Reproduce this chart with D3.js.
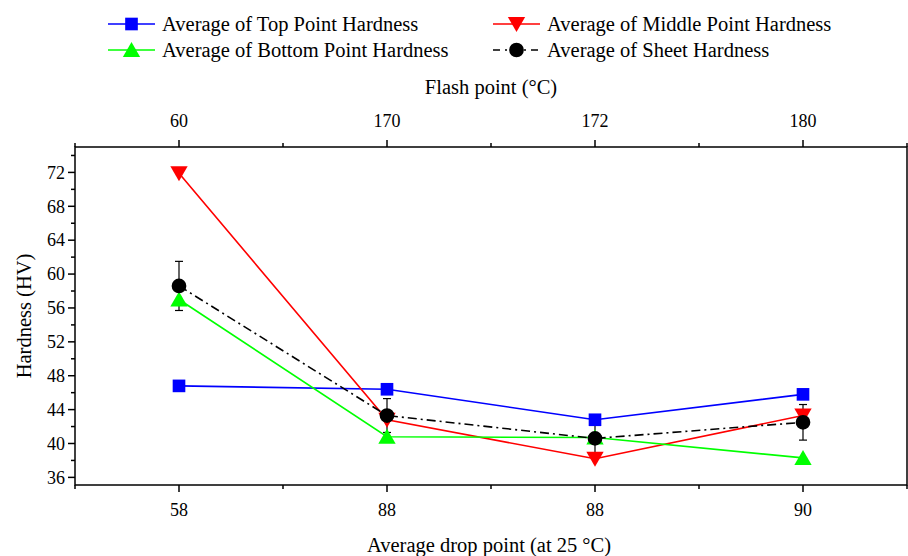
<!DOCTYPE html>
<html>
<head>
<meta charset="utf-8">
<script src="https://cdn.jsdelivr.net/npm/d3@7"></script>
<style>
  body { margin: 0; background: #fff; }
</style>
</head>
<body>
<div id="chart"></div>
<script>
// chart data
const dropPoints = ["58", "88", "88", "90"];
const flashPoints = ["60", "170", "172", "180"];
const topHardness = [46.8, 46.4, 42.8, 45.8];
const middleHardness = [71.9, 42.8, 38.2, 43.3];
const bottomHardness = [57.0, 40.8, 40.7, 38.3];
const sheetHardness = [58.6, 43.3, 40.6, 42.5];
const sheetError = [2.9, 2.0, 1.9, 2.1];
const yTicks = [36, 40, 44, 48, 52, 56, 60, 64, 68, 72];

const W = 908, H = 556;
const margin = { top: 147, right: 1, bottom: 71, left: 75 };
const width = W - margin.left - margin.right;
const height = H - margin.top - margin.bottom;
const FONT = "'Times New Roman', Times, 'Liberation Serif', 'Tinos', 'Noto Serif', 'DejaVu Serif', serif";
const FS = 18;      // tick labels
const FS_T = 20.5;  // titles and legend

const svg = d3.select("#chart")
  .append("svg")
  .attr("width", W)
  .attr("height", H)
  .style("font-family", FONT);

const g = svg.append("g")
  .attr("transform", `translate(${margin.left},${margin.top})`);

const x = d3.scaleLinear().domain([0, 4]).range([0, width]);
const y = d3.scaleLinear().domain([35.1, 75]).range([height, 0]);
const xi = i => x(i + 0.5);

// frame
g.append("rect")
  .attr("width", width)
  .attr("height", height)
  .attr("fill", "none")
  .attr("stroke", "#000")
  .attr("stroke-width", 1.5);

// bottom axis
const xb = g.append("g").attr("transform", `translate(0,${height})`);
xb.selectAll(".maj").data(dropPoints).join("line")
  .attr("x1", (d, i) => xi(i)).attr("x2", (d, i) => xi(i))
  .attr("y1", 0).attr("y2", 7).attr("stroke", "#000").attr("stroke-width", 1.5);
xb.selectAll(".min").data([0, 1, 2, 3, 4]).join("line")
  .attr("x1", d => x(d)).attr("x2", d => x(d))
  .attr("y1", 0).attr("y2", 4).attr("stroke", "#000").attr("stroke-width", 1.5);
xb.selectAll("text").data(dropPoints).join("text")
  .attr("x", (d, i) => xi(i)).attr("y", 31)
  .attr("text-anchor", "middle").attr("font-size", FS).text(d => d);

// top axis
const xt = g.append("g");
xt.selectAll(".maj").data(flashPoints).join("line")
  .attr("x1", (d, i) => xi(i)).attr("x2", (d, i) => xi(i))
  .attr("y1", 0).attr("y2", -7).attr("stroke", "#000").attr("stroke-width", 1.5);
xt.selectAll(".min").data([0, 1, 2, 3, 4]).join("line")
  .attr("x1", d => x(d)).attr("x2", d => x(d))
  .attr("y1", 0).attr("y2", -4).attr("stroke", "#000").attr("stroke-width", 1.5);
xt.selectAll("text").data(flashPoints).join("text")
  .attr("x", (d, i) => xi(i)).attr("y", -20)
  .attr("text-anchor", "middle").attr("font-size", FS).text(d => d);

// left axis
const ya = g.append("g");
ya.selectAll(".maj").data(yTicks).join("line")
  .attr("x1", 0).attr("x2", -7)
  .attr("y1", d => y(d)).attr("y2", d => y(d))
  .attr("stroke", "#000").attr("stroke-width", 1.5);
ya.selectAll(".min").data(d3.range(36, 76, 2).filter(v => v % 4 !== 0)).join("line")
  .attr("x1", 0).attr("x2", -4)
  .attr("y1", d => y(d)).attr("y2", d => y(d))
  .attr("stroke", "#000").attr("stroke-width", 1.5);
ya.selectAll("text").data(yTicks).join("text")
  .attr("x", -10).attr("y", d => y(d)).attr("dy", "0.35em")
  .attr("text-anchor", "end").attr("font-size", FS).text(d => d);

// axis titles
svg.append("text").attr("x", margin.left + width / 2 - 2).attr("y", 552)
  .attr("text-anchor", "middle").attr("font-size", FS_T).text("Average drop point (at 25 °C)");
svg.append("text").attr("x", margin.left + width / 2).attr("y", 94)
  .attr("text-anchor", "middle").attr("font-size", FS_T).text("Flash point (°C)");
svg.append("text")
  .attr("transform", `translate(31,${margin.top + height / 2}) rotate(-90)`)
  .attr("text-anchor", "middle").attr("font-size", FS_T).text("Hardness (HV)");

// series
const series = [
  { name: "Average of Top Point Hardness", values: topHardness, color: "#0000ff", marker: "square", dash: null },
  { name: "Average of Middle Point Hardness", values: middleHardness, color: "#ff0000", marker: "triDown", dash: null },
  { name: "Average of Bottom Point Hardness", values: bottomHardness, color: "#00ff00", marker: "triUp", dash: null },
  { name: "Average of Sheet Hardness", values: sheetHardness, color: "#000000", marker: "circle", dash: "9,4,2,4" }
];

const symbols = {
  square: d3.symbol().type(d3.symbolSquare).size(160),
  triUp: d3.symbol().type(d3.symbolTriangle).size(130),
  triDown: d3.symbol().type(d3.symbolTriangle).size(130),
  circle: d3.symbol().type(d3.symbolCircle).size(170)
};

function drawMarker(sel, m, color, cx, cy) {
  const rot = m === "triDown" ? " rotate(180)" : "";
  const dy = m === "triUp" ? 2 : (m === "triDown" ? -2 : 0);
  sel.append("path")
    .attr("d", symbols[m]())
    .attr("transform", `translate(${cx},${cy + dy})${rot}`)
    .attr("fill", color);
}

const line = d3.line().x((d, i) => xi(i)).y(d => y(d));

series.forEach(s => {
  g.append("path")
    .datum(s.values)
    .attr("d", line)
    .attr("fill", "none")
    .attr("stroke", s.color)
    .attr("stroke-width", 1.6)
    .attr("stroke-dasharray", s.dash);
});

// error bars for sheet hardness
const eb = g.append("g");
sheetHardness.forEach((v, i) => {
  const cx = xi(i);
  const y0 = y(v - sheetError[i]), y1 = y(v + sheetError[i]);
  eb.append("line").attr("x1", cx).attr("x2", cx).attr("y1", y0).attr("y2", y1)
    .attr("stroke", "#000").attr("stroke-width", 1.2);
  [y0, y1].forEach(yy => eb.append("line")
    .attr("x1", cx - 4).attr("x2", cx + 4).attr("y1", yy).attr("y2", yy)
    .attr("stroke", "#000").attr("stroke-width", 1.2));
});

series.forEach(s => {
  const mg = g.append("g");
  s.values.forEach((v, i) => drawMarker(mg, s.marker, s.color, xi(i), y(v)));
});

// legend
const legendPos = [
  { x: 108, y: 24 },
  { x: 493, y: 24 },
  { x: 108, y: 50 },
  { x: 493, y: 50 }
];
series.forEach((s, i) => {
  const p = legendPos[i];
  const lg = svg.append("g");
  lg.append("line")
    .attr("x1", p.x).attr("x2", p.x + 47)
    .attr("y1", p.y).attr("y2", p.y)
    .attr("stroke", s.color).attr("stroke-width", 1.6)
    .attr("stroke-dasharray", s.dash ? "7,5,2,5" : null);
  drawMarker(lg, s.marker, s.color, p.x + 23.5, p.y);
  lg.append("text")
    .attr("x", p.x + 54).attr("y", p.y).attr("dy", "0.35em")
    .attr("font-size", FS_T).text(s.name);
});
</script>
</body>
</html>
